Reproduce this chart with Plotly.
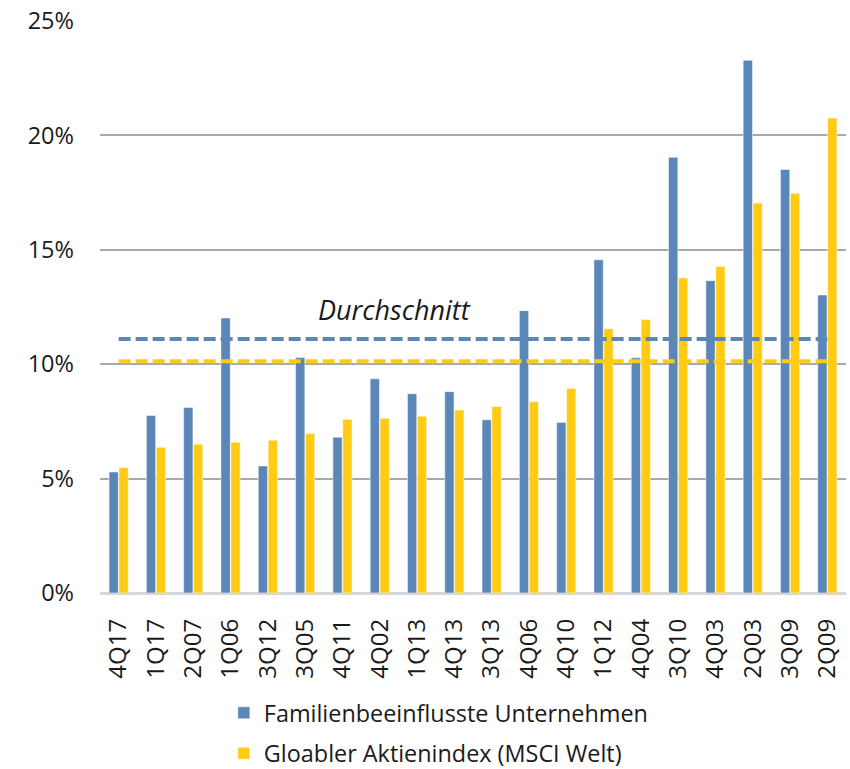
import plotly.graph_objects as go

categories = ["4Q17", "1Q17", "2Q07", "1Q06", "3Q12", "3Q05", "4Q11", "4Q02", "1Q13", "4Q13",
              "3Q13", "4Q06", "4Q10", "1Q12", "4Q04", "3Q10", "4Q03", "2Q03", "3Q09", "2Q09"]
familien = [5.29, 7.76, 8.11, 12.02, 5.55, 10.29, 6.81, 9.36, 8.71, 8.80,
            7.57, 12.34, 7.45, 14.56, 10.28, 19.04, 13.65, 23.28, 18.51, 13.02]
msci = [5.48, 6.37, 6.50, 6.59, 6.68, 6.97, 7.59, 7.64, 7.73, 8.00,
        8.15, 8.36, 8.94, 11.55, 11.95, 13.77, 14.27, 17.04, 17.47, 20.76]
avg_familien = 11.10
avg_msci = 10.13
y_ticks = [0, 5, 10, 15, 20, 25]
y_ticklabels = ["0%", "5%", "10%", "15%", "20%", "25%"]

BLUE = "#5A86B8"
YELLOW = "#FFCB14"
FONT = "Open Sans"
TXT = "#1A1A1A"

fig = go.Figure()
fig.add_trace(go.Bar(x=categories, y=familien, name="Familienbeeinflusste Unternehmen",
                     marker=dict(color=BLUE, line=dict(color="rgba(255,255,255,0.5)", width=1)),
                     legendgroup="a"))
fig.add_trace(go.Bar(x=categories, y=msci, name="Gloabler Aktienindex (MSCI Welt)",
                     marker=dict(color=YELLOW, line=dict(color="rgba(255,255,255,0.5)", width=1)),
                     legendgroup="b"))
fig.add_trace(go.Scatter(x=categories, y=[avg_familien] * len(categories), mode="lines",
                         line=dict(color=BLUE, width=4, dash="12px,5px"), showlegend=False,
                         hoverinfo="skip"))
fig.add_trace(go.Scatter(x=categories, y=[avg_msci] * len(categories), mode="lines",
                         line=dict(color=YELLOW, width=4, dash="12px,5px"), showlegend=False,
                         hoverinfo="skip"))

fig.add_annotation(text="<i>Durchschnitt</i>", xref="paper", yref="y", x=0.395, y=12.4,
                   showarrow=False, font=dict(family=FONT, size=27, color=TXT))

fig.update_layout(
    width=850, height=769,
    margin=dict(l=100, r=4, t=21, b=176, autoexpand=False),
    paper_bgcolor="white", plot_bgcolor="white",
    barmode="group", bargap=0.47, bargroupgap=0.06,
    font=dict(family=FONT, size=24, color=TXT),
    showlegend=True,
    legend=dict(orientation="v", x=0.166, xanchor="left", y=-0.1715, yanchor="top",
                font=dict(family=FONT, size=23.4, color=TXT), tracegroupgap=7,
                itemwidth=30, bgcolor="rgba(0,0,0,0)"),
    xaxis=dict(tickangle=-90, showgrid=False, zeroline=False, showline=False, automargin=False,
               ticks="", ticklabelstandoff=20, tickfont=dict(family=FONT, size=24, color=TXT)),
    yaxis=dict(range=[0, 25], tickvals=y_ticks, ticktext=y_ticklabels, showgrid=True,
               gridcolor="#A9A9A9", gridwidth=1.5, zeroline=True, zerolinecolor="#D6D6D6",
               zerolinewidth=2.5, showline=False, ticks="", ticklabelstandoff=25, automargin=False,
               tickfont=dict(family=FONT, size=23.5, color=TXT)),
)

fig.write_html("out.html", config={"displayModeBar": False},
               post_script="document.body.style.margin='0';document.body.style.overflow='hidden';")
